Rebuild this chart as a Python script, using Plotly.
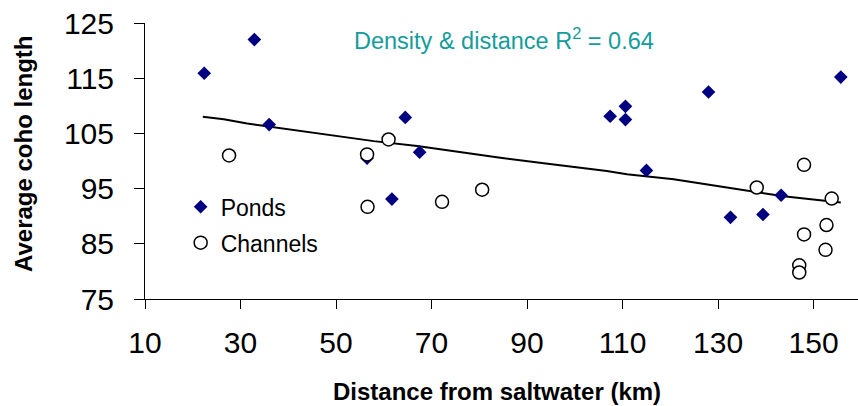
import plotly.graph_objects as go

# Ponds (filled navy diamonds)
ponds_x = [22.4, 32.9, 36.0, 56.5, 61.7, 64.5, 67.5, 107.4, 110.6, 110.6,
           115.0, 128.0, 132.6, 139.4, 143.2, 155.7]
ponds_y = [115.9, 122.0, 106.6, 100.5, 93.1, 107.9, 101.6, 108.1, 109.9, 107.5,
           98.3, 112.5, 89.8, 90.3, 93.8, 115.2]

# Channels (open circles)
channels_x = [27.6, 56.5, 61.0, 56.6, 72.2, 80.6, 138.1, 148.0, 153.8, 152.7,
              148.0, 152.5, 147.0, 147.0]
channels_y = [101.0, 101.2, 103.9, 91.7, 92.6, 94.8, 95.2, 99.3, 93.2, 88.4,
              86.7, 83.9, 81.1, 79.8]

# Fitted line (density & distance model)
fit_x = [22.1, 26.5, 31.4, 38.3, 43.9, 49.5, 57.9, 67.0, 76.0, 84.4, 93.5,
         106.7, 110.9, 120.7, 133.2, 143.7, 155.7]
fit_y = [108.0, 107.55, 106.8, 106.0, 105.25, 104.65, 103.6, 102.7, 101.6,
         100.6, 99.6, 98.2, 97.6, 96.7, 95.0, 93.6, 92.5]

x_ticks = [10, 30, 50, 70, 90, 110, 130, 150]
y_ticks = [75, 85, 95, 105, 115, 125]

FONT = "Liberation Sans, Arial, sans-serif"

fig = go.Figure()
fig.add_trace(go.Scatter(x=fit_x, y=fit_y, mode="lines",
                         line=dict(color="black", width=2),
                         showlegend=False, hoverinfo="skip"))
fig.add_trace(go.Scatter(x=ponds_x, y=ponds_y, mode="markers", name="Ponds",
                         legendgroup="p",
                         marker=dict(symbol="diamond", size=10.5, color="#000080",
                                     line=dict(width=0))))
fig.add_trace(go.Scatter(x=channels_x, y=channels_y, mode="markers", name="Channels",
                         legendgroup="c",
                         marker=dict(symbol="circle", size=13, color="white",
                                     line=dict(color="black", width=1.5))))

fig.update_layout(
    width=858, height=406,
    margin=dict(l=145, r=0, t=23, b=107, autoexpand=False),
    paper_bgcolor="white", plot_bgcolor="white",
    font=dict(family=FONT, color="black"),
    showlegend=True,
    legend=dict(x=0.05, y=0.412, xanchor="left", yanchor="top",
                bgcolor="rgba(0,0,0,0)", font=dict(size=23, family=FONT),
                tracegroupgap=3, traceorder="grouped"),
    xaxis=dict(range=[10, 159.3], tickvals=x_ticks, ticks="outside", ticklen=9,
               tickcolor="black", tickwidth=1, showline=True, linecolor="black",
               linewidth=1, showgrid=False, zeroline=False,
               tickfont=dict(size=30, family=FONT), ticklabelstandoff=8,
               automargin=False),
    yaxis=dict(range=[75, 125], tickvals=y_ticks, ticks="outside", ticklen=10,
               tickcolor="black", tickwidth=1, showline=True, linecolor="black",
               linewidth=1, showgrid=False, zeroline=False,
               tickfont=dict(size=30, family=FONT), ticklabelstandoff=14,
               automargin=False),
    annotations=[
        dict(text="Density & distance R<sup>2</sup> = 0.64", xref="paper", yref="paper",
             x=(504 - 145) / 713, y=(299 - 39) / 276, xanchor="center", yanchor="middle",
             showarrow=False, font=dict(size=23.5, color="#149c9c", family=FONT)),
        dict(text="<b>Distance from saltwater (km)</b>", xref="paper", yref="paper",
             x=(497 - 145) / 713, y=(299 - 391) / 276, xanchor="center", yanchor="middle",
             showarrow=False, font=dict(size=24, color="black", family=FONT)),
        dict(text="<b>Average coho length</b>", xref="paper", yref="paper",
             x=(23 - 145) / 713, y=(299 - 154) / 276, xanchor="center", yanchor="middle",
             textangle=-90, showarrow=False, font=dict(size=24, color="black", family=FONT)),
    ],
)

fig.write_html("out.html")
